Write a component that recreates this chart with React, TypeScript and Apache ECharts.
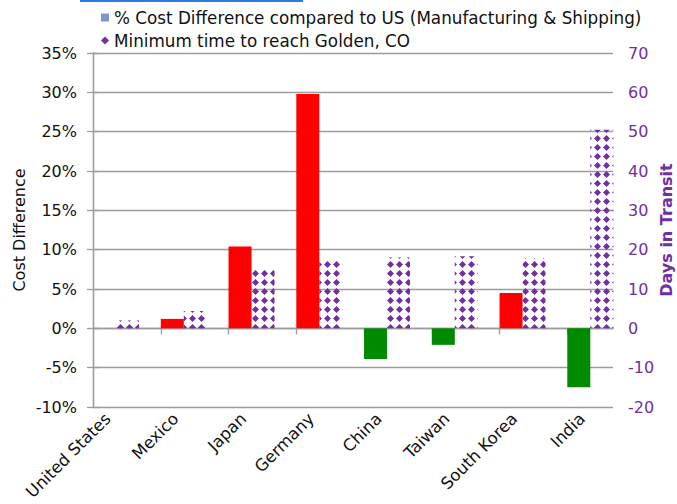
import React, { useEffect, useRef } from "react";
import * as echarts from "echarts";

const categories = ["United States", "Mexico", "Japan", "Germany", "China", "Taiwan", "South Korea", "India"];
const costDiff = [0, 1.2, 10.4, 29.8, -3.9, -2.1, 4.5, -7.5];
const transitDays = [2, 4.4, 15, 17.5, 18, 18.3, 17.8, 50.5];
const costTicks = { min: -10, max: 35, step: 5 };
const dayTicks = { min: -20, max: 70, step: 10 };
const legendNames = [
  "% Cost Difference compared to US (Manufacturing & Shipping)",
  "Minimum time to reach Golden, CO",
];

const FONT = "'DejaVu Sans', 'Liberation Sans', Arial, sans-serif";
const PURPLE = "#7030A0";
const GRID = "#9c9c9c";
const X_MAX = 7.675; // plot width in category slots
const BAR_OFF = 0.34; // pair center offset within slot
const LABEL_OFF = 0.22;

export default function App() {
  const ref = useRef<HTMLDivElement>(null);
  useEffect(() => {
    if (!ref.current) return;
    const chart = echarts.init(ref.current, null, { renderer: "svg" });
    const axisLineStyle = { color: GRID, width: 1.3 };
    chart.setOption({
      animation: false,
      backgroundColor: "#ffffff",
      textStyle: { fontFamily: FONT },
      graphic: [
        { type: "rect", left: 80, top: 0, shape: { width: 223, height: 2 }, style: { fill: "#2c7be5" } },
      ],
      legend: {
        orient: "vertical",
        left: 96,
        top: 4,
        itemGap: 6,
        itemWidth: 8,
        itemHeight: 8,
        selectedMode: false,
        textStyle: { fontFamily: FONT, fontSize: 16.8, color: "#111" },
        data: [
          { name: legendNames[0], icon: "rect", itemStyle: { color: "#8096c8" } },
          { name: legendNames[1], icon: "diamond", itemStyle: { color: PURPLE, decal: "none" } },
        ],
      },
      grid: { left: 93, right: 64, top: 53, bottom: 97, outerBoundsMode: "none", containLabel: false },
      xAxis: [
        {
          type: "value",
          min: 0,
          max: X_MAX,
          position: "bottom",
          axisLine: { show: false, onZero: false },
          axisTick: { show: false },
          splitLine: { show: false },
          axisLabel: {
            customValues: categories.map((_, i) => i + LABEL_OFF),
            formatter: (v: number) => categories[Math.round(v - LABEL_OFF)] ?? "",
            rotate: 45,
            margin: 9,
            fontSize: 16.5,
            color: "#111",
            fontFamily: FONT,
          },
        },
        {
          type: "value",
          min: 0,
          max: X_MAX,
          position: "top",
          axisLine: { show: true, onZero: true, lineStyle: axisLineStyle },
          axisTick: {
            show: true,
            inside: true,
            length: 6,
            customValues: categories.slice(1).map((_, i) => i + 1),
            lineStyle: axisLineStyle,
          },
          axisLabel: { show: false },
          splitLine: { show: false },
        },
      ],
      yAxis: [
        {
          type: "value",
          position: "left",
          min: costTicks.min,
          max: costTicks.max,
          interval: costTicks.step,
          name: "Cost Difference",
          nameLocation: "middle",
          nameRotate: 90,
          nameGap: 66,
          nameMoveOverlap: false,
          nameTextStyle: { fontSize: 16, color: "#111", fontFamily: FONT },
          axisLine: { show: true, lineStyle: axisLineStyle },
          axisTick: { show: true, length: 6, lineStyle: axisLineStyle },
          axisLabel: { formatter: "{value}%", fontSize: 16, margin: 16, color: "#111", fontFamily: FONT },
          splitLine: { show: true, lineStyle: { color: GRID, width: 1.3 } },
        },
        {
          type: "value",
          position: "right",
          min: dayTicks.min,
          max: dayTicks.max,
          interval: dayTicks.step,
          name: "Days in Transit",
          nameLocation: "middle",
          nameRotate: 90,
          nameGap: 45,
          nameMoveOverlap: false,
          nameTextStyle: { fontSize: 16, fontWeight: "bold", color: PURPLE, fontFamily: FONT },
          axisLine: { show: true, lineStyle: axisLineStyle },
          axisTick: { show: true, length: 6, lineStyle: axisLineStyle },
          axisLabel: { fontSize: 16, margin: 15, color: PURPLE, fontFamily: FONT },
          splitLine: { show: false },
        },
      ],
      series: [
        {
          name: legendNames[0],
          type: "bar",
          xAxisIndex: 0,
          yAxisIndex: 0,
          barWidth: 23,
          barGap: "0%",
          data: costDiff.map((v, i) => ({
            value: [i + BAR_OFF, v],
            itemStyle: { color: v >= 0 ? "#ff0000" : "#008a00" },
          })),
        },
        {
          name: legendNames[1],
          type: "bar",
          xAxisIndex: 0,
          yAxisIndex: 1,
          barWidth: 23,
          barGap: "0%",
          itemStyle: {
            color: "rgba(255,255,255,0)",
            decal: {
              symbol: "diamond",
              symbolSize: 1,
              color: PURPLE,
              backgroundColor: "rgba(255,255,255,0)",
              dashArrayX: [7, 2],
              dashArrayY: [7, 2],
            },
          },
          data: transitDays.map((v, i) => [i + BAR_OFF, v]),
        },
      ],
    });
    return () => chart.dispose();
  }, []);
  return <div ref={ref} style={{ position: "fixed", left: 0, top: 0, width: 677, height: 504 }} />;
}
